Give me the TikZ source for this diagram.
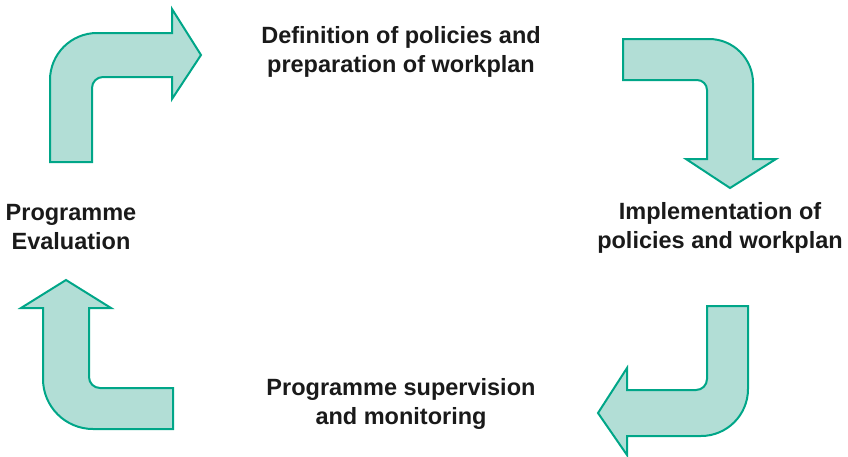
\documentclass[tikz,border=0pt]{standalone}
\usepackage{fontspec}
\setmainfont{Liberation Sans}
\definecolor{arrowfill}{RGB}{178,222,214}
\definecolor{arrowline}{RGB}{0,166,136}
\definecolor{txt}{RGB}{26,26,26}
\begin{document}
\begin{tikzpicture}[x=1pt,y=-1pt,
  bent/.style={fill=arrowfill,draw=arrowline,line width=2pt,line join=miter},
  lbl/.style={align=center,inner sep=0pt,anchor=base,text=txt,font=\fontsize{23.5}{28.7}\selectfont\bfseries}]
\useasboundingbox (0,0) rectangle (848,456);
% top-left arrow
\draw[bent] (50,162) -- (50,80) arc[start angle=180,end angle=270,radius=47] -- (172,33)
  -- (172,9) -- (201,55) -- (172,99) -- (172,77) -- (103,77)
  arc[start angle=270,end angle=180,radius=11] -- (92,162) -- cycle;
% top-right arrow
\draw[bent] (623,39) -- (709,39) arc[start angle=270,end angle=360,radius=44] -- (753,159)
  -- (776,159) -- (730,188) -- (686,159) -- (707,159) -- (707,90)
  arc[start angle=0,end angle=-90,radius=10] -- (623,80) -- cycle;
% bottom-right arrow
\draw[bent] (707,306) -- (748,306) -- (748,389) arc[start angle=0,end angle=90,radius=47]
  -- (627,436) -- (627,455) -- (598,413) -- (627,368) -- (627,390) -- (696,390)
  arc[start angle=90,end angle=0,radius=11] -- cycle;
% bottom-left arrow
\draw[bent] (66,280) -- (111,308) -- (89,308) -- (89,377)
  arc[start angle=180,end angle=90,radius=11] -- (173,388) -- (173,429) -- (93,429)
  arc[start angle=90,end angle=180,radius=50] -- (43,308) -- (21,308) -- cycle;
% labels
\node[lbl] (def) at (401,72) {Definition of policies and\\preparation of workplan};
\node[lbl] (impl) at (720,248) {Implementation of\\policies and workplan};
\node[lbl] (sup) at (401,424) {Programme supervision\\and monitoring};
\node[lbl] (eval) at (71,249) {Programme\\Evaluation};
\end{tikzpicture}
\end{document}
